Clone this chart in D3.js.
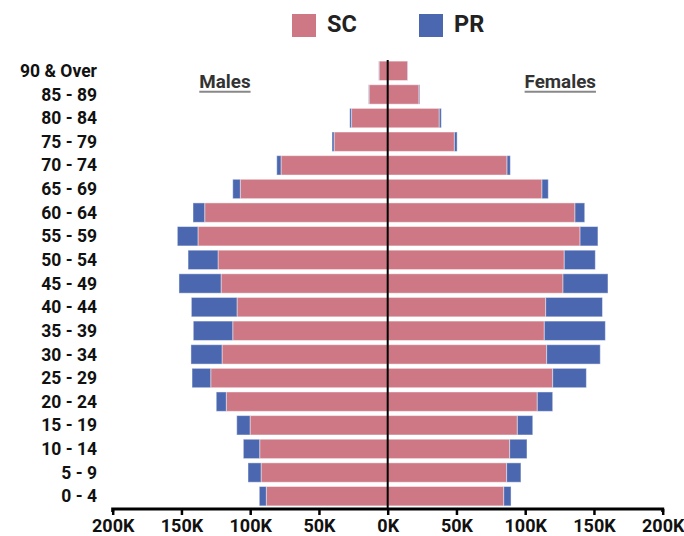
<!DOCTYPE html>
<html>
<head>
<meta charset="utf-8">
<script src="https://cdn.jsdelivr.net/npm/d3@7"></script>
<style>
  html, body { margin: 0; padding: 0; background: #fff; }
  svg { display: block; font-family: Roboto, "Noto Sans", sans-serif; }
</style>
</head>
<body>
<script>
// age groups, top to bottom
const ages = ["90 & Over", "85 - 89", "80 - 84", "75 - 79", "70 - 74", "65 - 69", "60 - 64",
  "55 - 59", "50 - 54", "45 - 49", "40 - 44", "35 - 39", "30 - 34", "25 - 29",
  "20 - 24", "15 - 19", "10 - 14", "5 - 9", "0 - 4"]

const maleSC = [6300, 13600, 26300, 39000, 77600, 107200, 133100, 138000, 123400, 121200,
  109600, 112700, 120500, 128700, 117400, 100100, 93100, 92100, 88300]
const malePR = [200, 300, 1300, 1500, 3100, 5500, 8500, 15000, 21800, 30600,
  33200, 28700, 22600, 13600, 7300, 9700, 11900, 9500, 5100]
const femaleSC = [14500, 22800, 37500, 48500, 86800, 112200, 136200, 139900, 128400, 127500,
  114900, 113900, 115600, 120000, 108800, 94300, 88700, 86500, 84400]
const femalePR = [200, 600, 1500, 2000, 2400, 4600, 7100, 13000, 22600, 32700,
  41300, 44400, 39000, 24500, 11200, 11200, 12600, 10400, 5300]

const series = ["SC", "PR"]
const tickValues = [-200000, -150000, -100000, -50000, 0, 50000, 100000, 150000, 200000]

const width = 684, height = 536
const colors = { SC: "#cd7884", PR: "#4a67b0" }

const svg = d3.select("body").append("svg")
  .attr("width", width)
  .attr("height", height)

svg.append("rect")
  .attr("width", width)
  .attr("height", height)
  .attr("fill", "#fff")

const x = d3.scaleLinear()
  .domain([-200000, 200000])
  .range([112.7, 662.7])

const y = d3.scaleBand()
  .domain(ages)
  .range([59, 508])
  .paddingInner(0.18)
  .paddingOuter(0.09)

// build stacked rows: males go left (negative), females right
const rows = ages.map((age, i) => ({
  age,
  m: [[0, -maleSC[i], "SC"], [-maleSC[i], -maleSC[i] - malePR[i], "PR"]],
  f: [[0, femaleSC[i], "SC"], [femaleSC[i], femaleSC[i] + femalePR[i], "PR"]]
}))

const segs = []
rows.forEach(r => {
  r.m.concat(r.f).forEach(s => segs.push({ age: r.age, a: s[0], b: s[1], key: s[2] }))
})

svg.append("g")
  .attr("id", "bars")
  .selectAll("rect")
  .data(segs)
  .join("rect")
    .attr("x", d => x(Math.min(d.a, d.b)))
    .attr("width", d => Math.abs(x(d.b) - x(d.a)))
    .attr("y", d => y(d.age))
    .attr("height", y.bandwidth())
    .attr("fill", d => colors[d.key])
    .attr("stroke", "#fff")
    .attr("stroke-opacity", 0.45)
    .attr("stroke-width", 1)

// center line
svg.append("line")
  .attr("x1", x(0)).attr("x2", x(0))
  .attr("y1", 60).attr("y2", 509)
  .attr("stroke", "#000")
  .attr("stroke-width", 2)

// x axis
const xAxis = svg.append("g")
  .attr("transform", "translate(0,509)")
  .call(d3.axisBottom(x)
    .tickValues(tickValues)
    .tickSize(6)
    .tickPadding(4)
    .tickFormat(d => Math.abs(d) / 1000 + "K"))

xAxis.select(".domain")
  .attr("stroke", "#000")
  .attr("stroke-width", 3)
  .attr("d", `M${x(-200000)},3V0H${x(200000)}V3`)
xAxis.selectAll(".tick line")
  .attr("stroke", "#000")
  .attr("stroke-width", 2.5)
xAxis.selectAll(".tick text")
  .attr("fill", "#111")
  .style("font", "bold 18px Roboto, sans-serif")

// age labels
svg.append("g")
  .selectAll("text")
  .data(ages)
  .join("text")
    .attr("x", 97)
    .attr("y", d => y(d) + y.bandwidth() / 2)
    .attr("dy", "0.35em")
    .attr("text-anchor", "end")
    .attr("fill", "#111")
    .style("font", "bold 17.5px Roboto, sans-serif")
    .text(d => d)

// Males / Females headings
const heads = [{ t: "Males", x: 199.3 }, { t: "Females", x: 524.6 }]
heads.forEach(h => {
  const t = svg.append("text")
    .attr("x", h.x)
    .attr("y", 88.3)
    .attr("fill", "#333")
    .style("font", "bold 18.8px Roboto, sans-serif")
    .text(h.t)
  const w = t.node().getComputedTextLength()
  svg.append("line")
    .attr("x1", h.x).attr("x2", h.x + w)
    .attr("y1", 91.8).attr("y2", 91.8)
    .attr("stroke", "#888")
    .attr("stroke-width", 2)
})

// legend
const legend = svg.append("g")
const legendX = [292, 419]
series.forEach((s, i) => {
  legend.append("rect")
    .attr("x", legendX[i])
    .attr("y", 14)
    .attr("width", 24)
    .attr("height", 23)
    .attr("fill", colors[s])
  legend.append("text")
    .attr("x", legendX[i] + 35)
    .attr("y", 32)
    .attr("fill", "#222")
    .style("font", "bold 23.5px Roboto, sans-serif")
    .text(s)
})
</script>
</body>
</html>
